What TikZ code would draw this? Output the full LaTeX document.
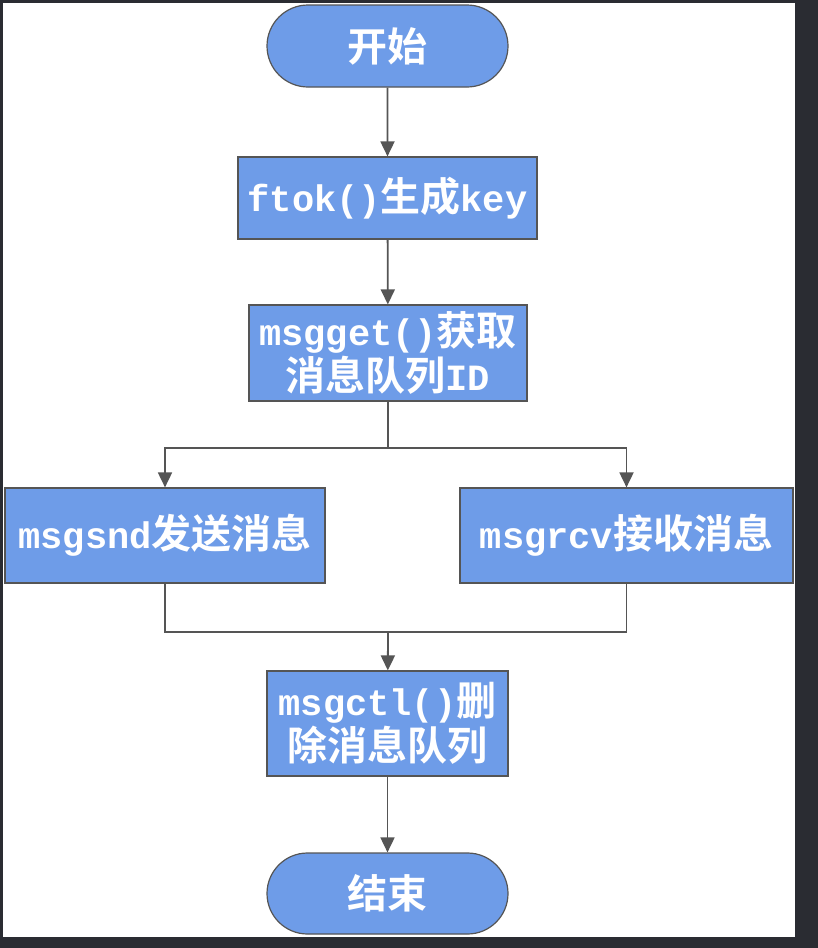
\documentclass[tikz,border=0pt]{standalone}
\usepackage{fontspec}
\setmainfont{Liberation Mono}
\newfontfamily\cjk{Noto Sans CJK SC}[BoldFont={Noto Sans CJK SC Bold}, Scale=1.08]
\usetikzlibrary{shapes.misc,arrows.meta,positioning,calc}
\definecolor{flowblue}{RGB}{110,156,232}
\definecolor{edgegray}{RGB}{85,85,85}
\definecolor{framedark}{RGB}{42,44,50}

\begin{document}
\begin{tikzpicture}[x=1pt, y=-1pt,
    base/.style={draw=edgegray, line width=1.2pt, fill=flowblue, text=white,
                 font=\fontsize{37}{45}\selectfont\bfseries, inner sep=0pt, align=center},
    terminal/.style={base, rounded rectangle, minimum width=241pt, minimum height=82pt},
    stepbox/.style={base, rectangle, minimum height=82pt},
    link/.style={draw=edgegray, line width=1.8pt},
    arrow/.style={link, -{Triangle[width=14pt,length=15pt]}}]
                % Screen frame
                \fill[framedark] (0,0) rectangle (818,948);
                \fill[white] (3,3) rectangle (795,937);
                \useasboundingbox (0,0) rectangle (818,948);

                % Start / end
                \node[terminal] (start) at (387.5,46) {{\cjk 开始}};
                \node[terminal, minimum height=81pt] (stop) at (387.5,893.5) {{\cjk 结束}};

                % Steps
                \node[stepbox, minimum width=299pt] (ftok) at (387.5,198) {ftok(){\cjk 生成}key};
                \node[stepbox, minimum width=278pt, minimum height=96pt] (msgget) at (388,353)
                    {msgget(){\cjk 获取}\\{\cjk 消息队列}ID};
                \node[stepbox, minimum width=320pt, minimum height=95pt] (snd) at (165,535.5)
                    {msgsnd{\cjk 发送消息}};
                \node[stepbox, minimum width=333pt, minimum height=95pt] (rcv) at (626.5,535.5)
                    {msgrcv{\cjk 接收消息}};
                \node[stepbox, minimum width=241pt, minimum height=105pt] (ctl) at (387.5,723.5)
                    {msgctl(){\cjk 删}\\{\cjk 除消息队列}};

                % Split and join points
                \coordinate (split) at (388,448);
                \coordinate (join) at (388,632);

                % Connectors
                \draw[arrow] (start) -- (ftok);
                \draw[arrow] (ftok) -- (msgget);
                \draw[link] (msgget) -- (split);
                \draw[arrow] (split) -| (snd);
                \draw[arrow] (split) -| (rcv);
                \draw[link] (snd) |- (join);
                \draw[link] (rcv) |- (join);
                \draw[arrow] (join) -- (ctl);
                \draw[arrow] (ctl) -- (stop);
\end{tikzpicture}
\end{document}
